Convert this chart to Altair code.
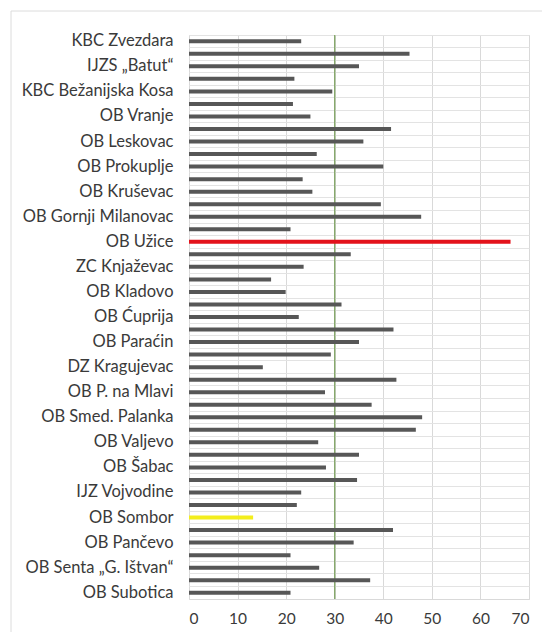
import json
import altair as alt
import pandas as pd

# Labelled institutions (every other bar carries a label, as in the source chart)
institutions = [
    "KBC Zvezdara", "IJZS „Batut“", "KBC Bežanijska Kosa", "OB Vranje",
    "OB Leskovac", "OB Prokuplje", "OB Kruševac", "OB Gornji Milanovac",
    "OB Užice", "ZC Knjaževac", "OB Kladovo", "OB Ćuprija", "OB Paraćin",
    "DZ  Kragujevac", "OB P. na  Mlavi", "OB Smed. Palanka", "OB Valjevo",
    "OB Šabac", "IJZ Vojvodine", "OB Sombor", "OB Pančevo",
    "OB Senta „G. Ištvan“", "OB Subotica",
]

# Bar values, top to bottom (45 bars)
values = [
    23.1, 45.4, 35.0, 21.7, 29.5, 21.4, 25.0, 41.6, 35.9, 26.3,
    40.0, 23.4, 25.4, 39.5, 47.8, 20.9, 66.2, 33.3, 23.6, 16.9,
    19.9, 31.4, 22.6, 42.1, 35.0, 29.2, 15.2, 42.7, 28.0, 37.6,
    48.0, 46.7, 26.6, 35.0, 28.2, 34.6, 23.1, 22.2, 13.2, 42.0,
    33.9, 20.9, 26.8, 37.3, 20.9,
]

reference_value = [30]
x_ticks = [0, 10, 20, 30, 40, 50, 60, 70]

group_names = ["other", "max", "min"]
group_colors = ["#575757", "#e3121b", "#f3ee1d"]

n = len(values)
row_labels = [institutions[i // 2] if i % 2 == 0 else "" for i in range(n)]
vmax, vmin = max(values), min(values)
groups = ["max" if v == vmax else ("min" if v == vmin else "other") for v in values]

df = pd.DataFrame({"row": list(range(n)), "value": values, "group": groups})
ref_df = pd.DataFrame({"ref": reference_value})

W, H = 340, 564

label_expr = json.dumps(row_labels) + "[datum.value]"

font = "Lato"
text_color = "#3a3a3a"

bars = alt.Chart(df).mark_bar(size=4).encode(
    x=alt.X(
        "value:Q",
        scale=alt.Scale(domain=[0, 70], nice=False),
        axis=alt.Axis(
            values=x_ticks, grid=True, gridColor="#d9d9d9", ticks=False,
            domain=False, labelPadding=12, labelFont=font, labelFontSize=15.5,
            labelColor=text_color, title=None,
        ),
    ),
    y=alt.Y(
        "row:O",
        scale=alt.Scale(paddingInner=0, paddingOuter=0),
        axis=alt.Axis(
            labelExpr=label_expr, ticks=False, domain=False, grid=True,
            gridColor="#e3e3e3", bandPosition=0,
            labelPadding=16, labelFont=font, labelFontSize=16.5,
            labelColor=text_color, labelLimit=400, title=None,
        ),
    ),
    color=alt.Color(
        "group:N",
        scale=alt.Scale(domain=group_names, range=group_colors),
        legend=None,
    ),
)

ref_rule = alt.Chart(ref_df).mark_rule(color="#7fa463", strokeWidth=1.3).encode(
    x=alt.X("ref:Q")
)

border_left = alt.Chart(ref_df).mark_rule(color="#dcdcdc", strokeWidth=1).encode(
    x=alt.value(-178), y=alt.value(-24), y2=alt.value(H + 40)
)
border_top = alt.Chart(ref_df).mark_rule(color="#dcdcdc", strokeWidth=1).encode(
    x=alt.value(-178), x2=alt.value(W + 20), y=alt.value(-24)
)

chart = alt.layer(ref_rule, bars, border_left, border_top).properties(
    width=W, height=H,
    autosize=alt.AutoSizeParams(type="none"),
    padding={"left": 189, "top": 35, "right": 13, "bottom": 33},
    background="white",
).configure_view(stroke="#d9d9d9", strokeWidth=1)

chart.save("out.html", embed_options={"renderer": "svg", "actions": False})
